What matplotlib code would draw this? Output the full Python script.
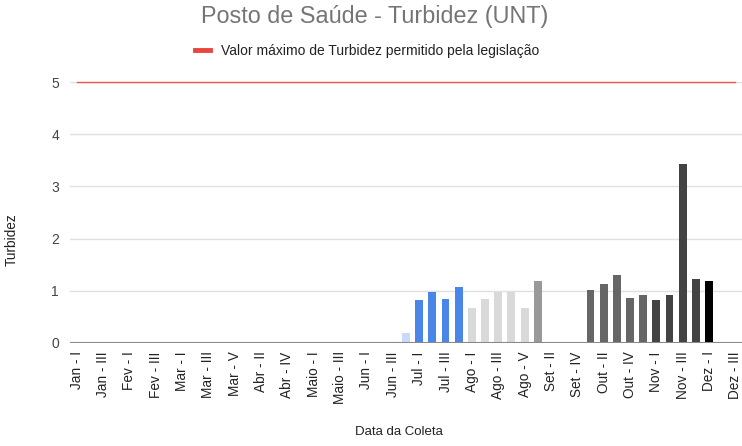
import matplotlib
matplotlib.use('Agg')
from matplotlib import pyplot as plt

plt.rcParams['font.family'] = ['Liberation Sans', 'DejaVu Sans']

# coleta labels, one per week of each month
months = ['Jan', 'Fev', 'Mar', 'Abr', 'Maio', 'Jun', 'Jul', 'Ago', 'Set', 'Out', 'Nov', 'Dez']
weeks_per_month = [4, 4, 5, 5, 4, 4, 4, 5, 4, 5, 4, 3]
roman = ['I', 'II', 'III', 'IV', 'V']

labels = []
label_month = []
for m, n in zip(months, weeks_per_month):
    for k in range(n):
        labels.append(m + ' - ' + roman[k])
        label_month.append(m)

# turbidez (UNT) per coleta, 0 = no sample
turbidez = [0, 0, 0, 0,              # Jan
            0, 0, 0, 0,              # Fev
            0, 0, 0, 0, 0,           # Mar
            0, 0, 0, 0, 0,           # Abr
            0, 0, 0, 0,              # Maio
            0, 0, 0, 0.20,           # Jun
            0.82, 0.97, 0.84, 1.08,  # Jul
            0.68, 0.84, 0.97, 0.97, 0.68,  # Ago
            1.19, 0, 0, 0,           # Set
            1.02, 1.13, 1.30, 0.86, 0.92,  # Out
            0.82, 0.92, 3.43, 1.22,  # Nov
            1.19, 0, 0]              # Dez

limite = 5

month_colors = {'Jun': '#c9daf8', 'Jul': '#4a86e8', 'Ago': '#d9d9d9',
                'Set': '#999999', 'Out': '#666666', 'Nov': '#434343',
                'Dez': '#000000'}
colors = [month_colors.get(m, '#4a86e8') for m in label_month]
x = list(range(len(labels)))

fig = plt.figure(figsize=(7.42, 4.46), dpi=100)
ax = fig.add_axes([70 / 742, 103 / 446, 672 / 742, 261 / 446])

ax.bar(x, turbidez, width=0.6, color=colors, zorder=3)
line, = ax.plot(x, [limite] * len(x), color='#e8584f', linewidth=1,
                zorder=4, clip_on=False,
                label='Valor máximo de Turbidez permitido pela legislação')

ax.set_xlim(-0.5, len(x) - 0.5)
ax.set_ylim(0, 5)
ax.set_yticks([0, 1, 2, 3, 4, 5])
ax.grid(axis='y', color='#e0e0e0', linewidth=1, zorder=0)
ax.axhline(0, color='#8a8a8a', linewidth=1.5, zorder=5)
for s in ax.spines.values():
    s.set_visible(False)

ax.set_xticks(x[::2])
ax.set_xticklabels(labels[::2], rotation=90, fontsize=9.8, color='#222222')
ax.tick_params(axis='x', length=0, pad=6)
ax.tick_params(axis='y', length=0, pad=8, labelsize=10, labelcolor='#444444')

ax.set_xlabel('Data da Coleta', fontsize=9.5, color='#222222', va='center')
ax.xaxis.set_label_coords(0.49, -0.341)
ax.set_ylabel('Turbidez', fontsize=9.8, color='#222222', va='center')
ax.yaxis.set_label_coords(-0.086, 0.397)

fig.text(0.505, 0.963, 'Posto de Saúde - Turbidez (UNT)', ha='center', va='center',
         fontsize=16.8, color='#757575')
leg = fig.legend(handles=[line], loc='center', bbox_to_anchor=(0.495, 0.885),
                 frameon=False, fontsize=10, handlelength=1.1, handletextpad=0.8)
leg.get_lines()[0].set_linewidth(3.5)
leg.get_lines()[0].set_color('#e8453c')
for t in leg.get_texts():
    t.set_color('#222222')

plt.savefig('out.png', dpi=100)
